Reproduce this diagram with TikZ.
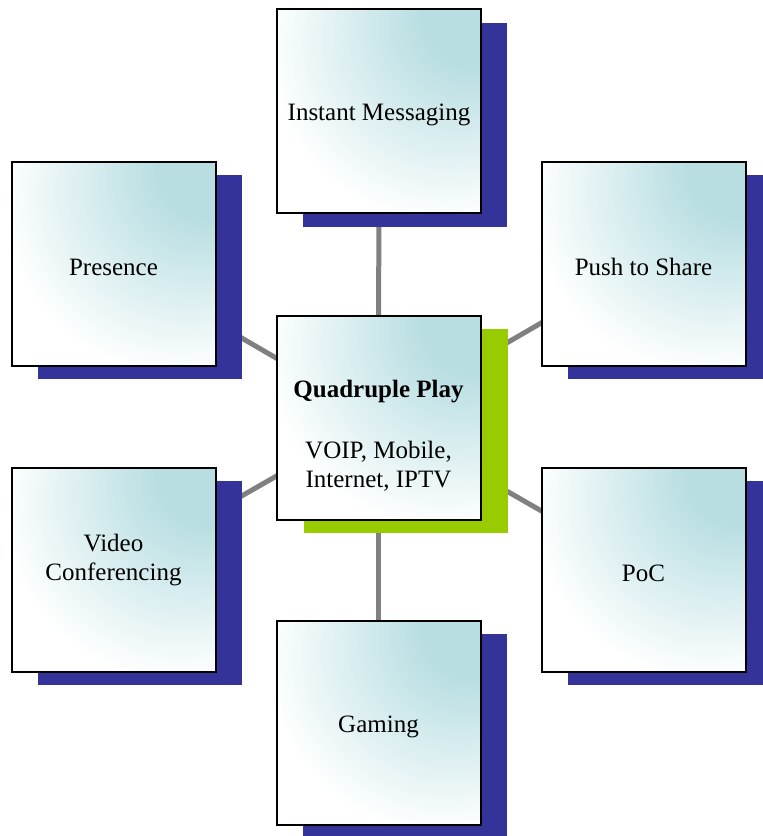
\documentclass[tikz,border=0pt]{standalone}
\usepackage{fontspec}
\setmainfont{Liberation Serif}
\usetikzlibrary{shadows,backgrounds}
\definecolor{tealish}{HTML}{B8DEE2}
\definecolor{navyshadow}{HTML}{333399}
\definecolor{greenshadow}{HTML}{99CC00}
\definecolor{linkgray}{HTML}{808080}
\pgfdeclareradialshading{tealcorner}{\pgfpoint{26bp}{26bp}}{%
  color(0bp)=(tealish); color(12bp)=(tealish); color(42bp)=(white); color(100bp)=(white)}
\tikzset{
  box/.style={draw=black, line width=1pt, shading=tealcorner,
    minimum width=102pt, minimum height=102pt, inner sep=0pt},
  navybox/.style={box, general shadow={fill=navyshadow, shadow xshift=13pt, shadow yshift=-6.75pt}},
  greenbox/.style={box, general shadow={fill=greenshadow, shadow xshift=13.5pt, shadow yshift=-6.75pt}},
  link/.style={draw=linkgray, line width=2.5pt},
  lbl/.style={align=center, font=\fontsize{12.5}{14.5}\selectfont, text=black, inner sep=0pt}
}
\begin{document}
\begin{tikzpicture}[x=0.5pt, y=-0.5pt]
\useasboundingbox (0,0) rectangle (762,836);
\node[navybox] (im) at (379,111) {};
\node[navybox] (pr) at (113.5,263.5) {};
\node[navybox] (ps) at (643.5,263.5) {};
\node[navybox] (vc) at (113.5,569.5) {};
\node[navybox] (poc) at (643.5,569.5) {};
\node[navybox] (gm) at (378.5,722.5) {};
\node[greenbox] (qp) at (378.5,417.5) {};
\node[lbl] (imt) at (379,115) {Instant Messaging};
\node[lbl] (prt) at (113.5,267) {Presence};
\node[lbl] (pst) at (643.5,267) {Push to Share};
\node[lbl] (vct) at (113.5,560.5) {Video\\Conferencing};
\node[lbl] (poct) at (643.5,573) {PoC};
\node[lbl] (gmt) at (378.5,727) {Gaming};
\node[lbl] (qpt) at (378.5,436) {\textbf{Quadruple Play}\\[16pt]VOIP, Mobile,\\Internet, IPTV};
\begin{scope}[on background layer]
\draw[link] (qp.center) -- (im.center);
\draw[link] (qp.center) -- (pr.center);
\draw[link] (qp.center) -- (ps.center);
\draw[link] (qp.center) -- (vc.center);
\draw[link] (qp.center) -- (poc.center);
\draw[link] (qp.center) -- (gm.center);
\end{scope}
\end{tikzpicture}
\end{document}
